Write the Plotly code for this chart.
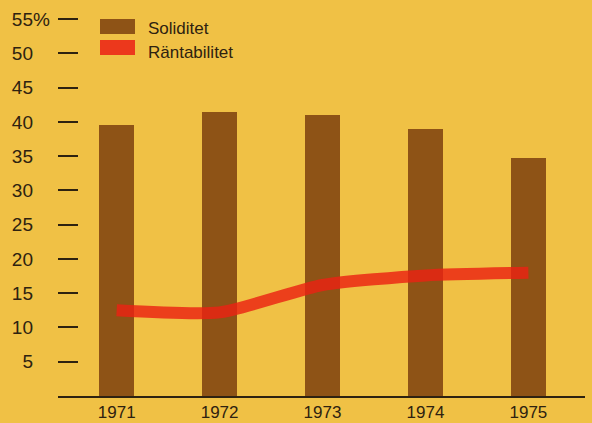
import plotly.graph_objects as go

years = [1971, 1972, 1973, 1974, 1975]
soliditet = [39.5, 41.4, 41.0, 39.0, 34.8]
rantabilitet = [12.5, 12.2, 16.2, 17.6, 18.0]
ytick_vals = [5, 10, 15, 20, 25, 30, 35, 40, 45, 50, 55]
ytick_text = ["5", "10", "15", "20", "25", "30", "35", "40", "45", "50", "55"]
legend_names = ["Soliditet", "Räntabilitet"]

BG = "#F0C145"
BROWN = "#8E5316"
RED = "#EC381C"
INK = "#2E2210"
FONT = "Liberation Sans, Arial, sans-serif"

T, B, L, R = 15, 27, 58, 7
PH = 423 - T - B
PW = 592 - L - R

fig = go.Figure()
fig.add_trace(go.Bar(x=years, y=soliditet, name=legend_names[0],
                     marker=dict(color=BROWN, line=dict(width=0)),
                     width=0.34, showlegend=False))
fig.add_trace(go.Scatter(x=years, y=rantabilitet, name=legend_names[1],
                         mode="lines",
                         line=dict(color="rgba(234,34,18,0.82)", width=12,
                                   shape="spline", smoothing=0.6),
                         showlegend=False))

fig.update_layout(
    width=592, height=423,
    margin=dict(l=L, r=R, t=T, b=B),
    paper_bgcolor=BG, plot_bgcolor=BG,
    font=dict(family=FONT, color=INK),
    xaxis=dict(range=[1970.43, 1975.55], tickvals=years,
               ticktext=[str(y) for y in years],
               showgrid=False, zeroline=False, showline=True,
               linecolor=INK, linewidth=1.5, ticks="", automargin=False,
               tickfont=dict(size=17, family=FONT, color=INK)),
    yaxis=dict(range=[0, 55.6], tickvals=ytick_vals, ticktext=ytick_text,
               showgrid=False, zeroline=False, showline=False,
               ticks="inside", ticklen=20, tickwidth=2, tickcolor=INK,
               ticklabelstandoff=24, automargin=False,
               tickfont=dict(size=19, family=FONT, color=INK)),
    bargap=0,
)

# "%" after the top tick label
fig.add_annotation(text="%", xref="paper", yref="y", x=(31 - L) / PW, y=55,
                   xanchor="left", yanchor="middle", showarrow=False,
                   font=dict(size=19, family=FONT, color=INK))

# legend swatches and labels
swatch_colors = [BROWN, RED]
for i, (name, col) in enumerate(zip(legend_names, swatch_colors)):
    fig.add_shape(type="rect", xref="paper", yref="paper",
                  x0=(100 - L) / PW, x1=(135 - L) / PW,
                  y0=(423 - B - (34 + i * 21)) / PH,
                  y1=(423 - B - (19 + i * 21)) / PH,
                  fillcolor=col, line=dict(width=0), layer="above")
    fig.add_annotation(text=name, xref="paper", yref="paper",
                       x=(146 - L) / PW,
                       y=(423 - B - (29 + i * 24)) / PH,
                       xanchor="left", yanchor="middle", showarrow=False,
                       font=dict(size=17, family=FONT, color=INK))

fig.write_html("out.html", config={"displayModeBar": False},
               post_script="document.body.style.margin='0';")
